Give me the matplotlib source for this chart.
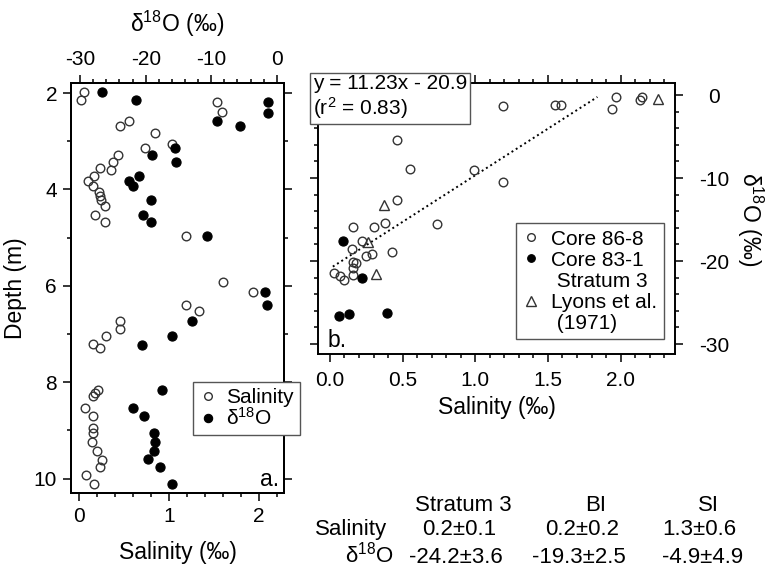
import numpy as np
import matplotlib
matplotlib.use("Agg")
import matplotlib.pyplot as plt
from matplotlib.lines import Line2D
from matplotlib.ticker import MultipleLocator

plt.rcParams['font.family'] = ['Liberation Sans', 'DejaVu Sans']
plt.rcParams['mathtext.fontset'] = 'custom'
plt.rcParams['mathtext.rm'] = 'Liberation Sans'
plt.rcParams['mathtext.default'] = 'regular'
plt.rcParams['axes.unicode_minus'] = False

# --- panel a: depth profiles ---
depth_sal = [1.97, 2.14, 2.19, 2.40, 2.57, 2.68, 2.83, 3.06, 3.14, 3.28, 3.43, 3.55,
             3.59, 3.73, 3.83, 3.92, 4.05, 4.13, 4.21, 4.35, 4.52, 4.67, 4.97, 5.92,
             6.13, 6.40, 6.52, 6.73, 6.89, 7.04, 7.21, 7.29, 8.16, 8.23, 8.29, 8.54,
             8.71, 8.96, 9.06, 9.25, 9.42, 9.61, 9.75, 9.92, 10.12]
salinity = [0.05, 0.02, 1.54, 1.59, 0.55, 0.46, 0.84, 1.03, 0.73, 0.43, 0.38, 0.23,
            0.36, 0.17, 0.10, 0.16, 0.22, 0.23, 0.24, 0.29, 0.18, 0.29, 1.19, 1.60,
            1.94, 1.19, 1.33, 0.46, 0.46, 0.30, 0.15, 0.23, 0.21, 0.18, 0.15, 0.07,
            0.16, 0.15, 0.15, 0.14, 0.20, 0.25, 0.23, 0.08, 0.17]

depth_d18 = [1.97, 2.14, 2.19, 2.41, 2.57, 2.68, 3.14, 3.28, 3.43, 3.73, 3.82, 3.92,
             4.22, 4.52, 4.67, 4.97, 6.13, 6.40, 6.74, 7.04, 7.22, 8.16, 8.54, 8.71,
             9.06, 9.25, 9.42, 9.59, 9.75, 10.12]
d18o = [-26.7, -21.5, -1.3, -1.3, -9.1, -5.6, -15.5, -19.0, -15.4, -21.1, -22.5, -21.9,
        -19.2, -20.4, -19.2, -10.6, -1.8, -1.5, -13.0, -16.0, -20.6, -17.5, -21.9, -20.2,
        -18.7, -18.6, -18.7, -19.6, -17.8, -16.0]

# --- panel b: d18O vs salinity ---
sal_86 = [1.19, 1.55, 1.59, 1.97, 1.94, 2.15, 2.13, 0.46, 0.55, 0.99, 1.19, 0.46,
          0.16, 0.30, 0.38, 0.74, 0.22, 0.15, 0.29, 0.25, 0.43, 0.16, 0.18, 0.16,
          0.03, 0.07, 0.10, 0.16]
d18_86 = [-1.3, -1.2, -1.2, -0.3, -1.7, -0.3, -0.6, -5.4, -8.9, -9.0, -10.5, -12.7,
          -15.9, -15.9, -15.4, -15.5, -17.6, -18.5, -19.1, -19.4, -18.9, -20.1, -20.3, -20.9,
          -21.4, -21.8, -22.3, -21.7]
sal_83 = [0.09, 0.22, 0.06, 0.13, 0.39]
d18_83 = [-17.6, -22.1, -26.6, -26.4, -26.3]
sal_lyons = [2.26, 0.37, 0.26, 0.32]
d18_lyons = [-0.5, -13.3, -17.7, -21.6]

slope, intercept = 11.23, -20.9
fit_x = np.array([0.02, 1.84])

# --- summary table ---
col_names = ["Stratum 3", "BI", "SI"]
sal_stats = ["0.2\u00b10.1", "0.2\u00b10.2", "1.3\u00b10.6"]
d18_stats = ["-24.2\u00b13.6", "-19.3\u00b12.5", "-4.9\u00b14.9"]

W, H = 775, 568
fig = plt.figure(figsize=(W / 100, H / 100), dpi=100)

def fx(px):
    return px / W

def fy(py):
    return 1 - py / H

open_kw = dict(marker='o', ms=6.2, mfc='none', mec='#333333', mew=1.0, ls='none')
fill_kw = dict(marker='o', ms=6.6, mfc='black', mec='black', mew=0.8, ls='none')
tri_kw = dict(marker='^', ms=7.5, mfc='none', mec='#333333', mew=1.0, ls='none')

TICK = 15
LAB = 16.5

# ---------- panel a ----------
ax1 = fig.add_axes([fx(71), fy(493), fx(284) - fx(71), fy(83) - fy(493)])
ax1.plot(salinity, depth_sal, **open_kw)
ax1.set_xlim(-0.09, 2.28)
ax1.set_ylim(10.3, 1.79)
ax1.xaxis.set_major_locator(MultipleLocator(1))
ax1.xaxis.set_minor_locator(MultipleLocator(0.2))
ax1.yaxis.set_major_locator(MultipleLocator(2))
ax1.yaxis.set_minor_locator(MultipleLocator(1))
ax1.tick_params(which='both', direction='out', left=True, right=True, labelsize=TICK, width=1.1)
ax1.tick_params(which='major', length=6, pad=4)
ax1.tick_params(which='minor', length=3)
ax1.set_xlabel('Salinity (\u2030)', fontsize=LAB, labelpad=11)
ax1.set_ylabel('Depth (m)', fontsize=LAB, labelpad=5)
ax1.text(0.975, 0.018, 'a.', transform=ax1.transAxes, ha='right', va='baseline', fontsize=LAB)

ax1t = ax1.twiny()
ax1t.plot(d18o, depth_d18, **fill_kw)
ax1t.set_xlim(-31.4, 1.1)
ax1t.xaxis.set_major_locator(MultipleLocator(10))
ax1t.xaxis.set_minor_locator(MultipleLocator(2))
ax1t.tick_params(which='both', direction='out', labelsize=TICK, width=1.1)
ax1t.tick_params(which='major', length=6, pad=4)
ax1t.tick_params(which='minor', length=3)
ax1t.set_xlabel('\u03b4$^{18}$O (\u2030)', fontsize=LAB, labelpad=13)
for a in (ax1, ax1t):
    for s in a.spines.values():
        s.set_linewidth(1.4)

fig.legend(handles=[Line2D([], [], **dict(open_kw, ms=5.5)),
                    Line2D([], [], **dict(fill_kw, ms=6))],
           labels=['Salinity', '\u03b4$^{18}$O'],
           loc='upper left', bbox_to_anchor=(fx(193), fy(381.7)), borderaxespad=0,
           fontsize=15, frameon=True, fancybox=False, edgecolor='#555555', framealpha=1,
           handlelength=0.8, handletextpad=0.5, labelspacing=0.0, borderpad=0.3)

# ---------- panel b ----------
ax2 = fig.add_axes([fx(318.3), fy(354.3), fx(675) - fx(318.3), fy(83.3) - fy(354.3)])
ax2.plot(fit_x, slope * fit_x + intercept, color='black', lw=1.4, ls=(0, (1, 1.6)))
ax2.plot(sal_86, d18_86, **open_kw)
ax2.plot(sal_83, d18_83, **fill_kw)
ax2.plot(sal_lyons, d18_lyons, **tri_kw)
ax2.set_xlim(-0.08, 2.374)
ax2.set_ylim(-31.24, 1.41)
ax2.set_xticks([0.0, 0.5, 1.0, 1.5, 2.0])
ax2.set_xticklabels(['0.0', '0.5', '1.0', '1.5', '2.0'])
ax2.xaxis.set_minor_locator(MultipleLocator(0.1))
ax2.set_yticks([-30, -20, -10, 0])
ax2.set_yticklabels(['-30', '-20', '-10', '0'])
ax2.yaxis.set_minor_locator(MultipleLocator(2))
ax2.tick_params(which='both', direction='out', left=True, right=True, top=True,
                labelleft=False, labelright=True, labelsize=TICK, width=1.1)
ax2.tick_params(which='major', length=6)
ax2.tick_params(which='minor', length=3)
ax2.tick_params(axis='x', pad=6)
ax2.tick_params(axis='y', pad=22)
plt.setp(ax2.get_yticklabels(), ha='center')
for s in ax2.spines.values():
    s.set_linewidth(1.4)
ax2.set_xlabel('Salinity (\u2030)', fontsize=LAB, labelpad=4)
ax2.yaxis.set_label_position('right')
ax2.set_ylabel('\u03b4$^{18}$O (\u2030)', fontsize=LAB, rotation=-90, va='bottom', labelpad=4)
ax2.text(0.027, 0.028, 'b.', transform=ax2.transAxes, ha='left', va='baseline', fontsize=LAB)

blank = Line2D([], [], ls='none', marker=None)
fig.legend(handles=[Line2D([], [], **dict(open_kw, ms=5.5)),
                    Line2D([], [], **dict(fill_kw, ms=5.5)), blank,
                    Line2D([], [], **dict(tri_kw, ms=6.5)), blank],
           labels=['Core 86-8', 'Core 83-1', ' Stratum 3', 'Lyons et al.', ' (1971)'],
           loc='upper left', bbox_to_anchor=(fx(516), fy(223.3)), borderaxespad=0,
           fontsize=15, frameon=True, fancybox=False, edgecolor='#555555', framealpha=1,
           handlelength=0.8, handletextpad=0.6, labelspacing=0.1, borderpad=0.3)

fig.text(fx(313), fy(74), 'y = 11.23x - 20.9\n(r$^2$ = 0.83)', fontsize=15,
         ha='left', va='top', linespacing=1.1,
         bbox=dict(boxstyle='square,pad=0.15', fc='white', ec='#555555', lw=1))

# ---------- table ----------
TAB = 16
for x, name in zip([463, 596, 708], col_names):
    fig.text(fx(x), fy(510.7), name, fontsize=TAB, ha='center', va='baseline')
fig.text(fx(387), fy(535), 'Salinity', fontsize=TAB, ha='right', va='baseline')
for x, v in zip([459, 582, 699], sal_stats):
    fig.text(fx(x), fy(535), v, fontsize=TAB, ha='center', va='baseline')
fig.text(fx(394), fy(562.7), '\u03b4$^{18}$O', fontsize=TAB, ha='right', va='baseline')
for x, v in zip([456, 579, 703], d18_stats):
    fig.text(fx(x), fy(562.7), v, fontsize=TAB, ha='center', va='baseline')

fig.savefig('out.png', dpi=100)
